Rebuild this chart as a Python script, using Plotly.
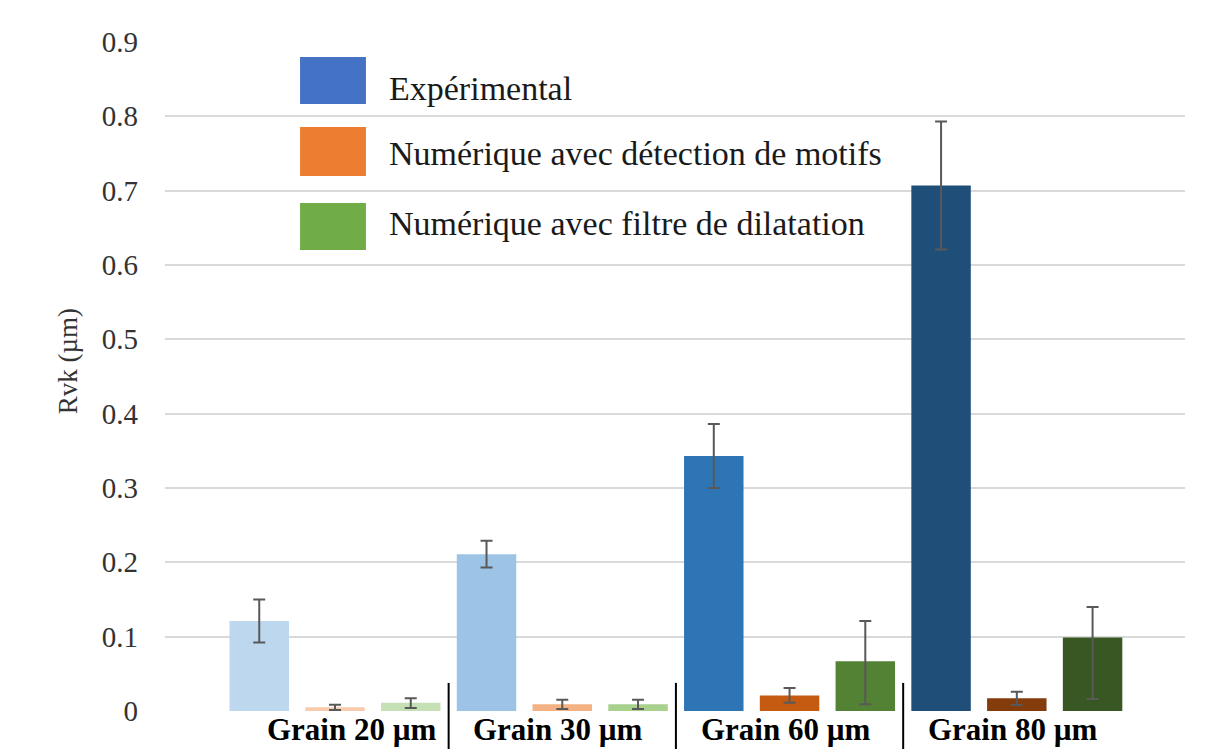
import plotly.graph_objects as go

# data
categories = ["Grain 20 µm", "Grain 30 µm", "Grain 60 µm", "Grain 80 µm"]
series_names = [
    "Expérimental",
    "Numérique avec détection de motifs",
    "Numérique avec filtre de dilatation",
]

exp_values = [0.121, 0.211, 0.343, 0.707]
exp_errors = [0.029, 0.018, 0.043, 0.086]

motif_values = [0.005, 0.009, 0.021, 0.017]
motif_errors = [0.0035, 0.0063, 0.010, 0.009]

dil_values = [0.011, 0.009, 0.067, 0.099]
dil_errors_plus = [0.0060, 0.0063, 0.054, 0.041]
dil_errors_minus = [0.0070, 0.0063, 0.058, 0.083]

exp_colors = ["#BDD7EE", "#9DC3E6", "#2E75B6", "#1F4E79"]
motif_colors = ["#F8CBAD", "#F4B183", "#C55A11", "#843C0C"]
dil_colors = ["#C5E0B4", "#A9D18E", "#548235", "#385723"]
legend_colors = ["#4472C4", "#ED7D31", "#70AD47"]

y_ticks = [0, 0.1, 0.2, 0.3, 0.4, 0.5, 0.6, 0.7, 0.8, 0.9]

FONT = "Liberation Serif"
ERR_COLOR = "#595959"

x_pos = list(range(len(categories)))

fig = go.Figure()


def err(arr, arr_minus=None):
    d = dict(type="data", array=arr, color=ERR_COLOR, thickness=2, width=6)
    if arr_minus is not None:
        d["symmetric"] = False
        d["arrayminus"] = arr_minus
    return d


fig.add_trace(go.Bar(x=x_pos, y=exp_values, name=series_names[0],
                     marker=dict(color=exp_colors, line=dict(width=0)),
                     error_y=err(exp_errors), showlegend=False))
fig.add_trace(go.Bar(x=x_pos, y=motif_values, name=series_names[1],
                     marker=dict(color=motif_colors, line=dict(width=0)),
                     error_y=err(motif_errors), showlegend=False))
fig.add_trace(go.Bar(x=x_pos, y=dil_values, name=series_names[2],
                     marker=dict(color=dil_colors, line=dict(width=0)),
                     error_y=err(dil_errors_plus, dil_errors_minus), showlegend=False))

# hand-made legend with big square swatches
swatch_y = [(0.9776, 0.9073), (0.8729, 0.7997), (0.7593, 0.6891)]
text_y = [0.93, 0.834, 0.729]
shapes = []
annotations = []
for name, col, (y1, y0), ty in zip(series_names, legend_colors, swatch_y, text_y):
    shapes.append(dict(type="rect", xref="paper", yref="paper",
                       x0=0.1324, x1=0.197, y0=y0, y1=y1,
                       fillcolor=col, line=dict(width=0), layer="above"))
    annotations.append(dict(text=name, xref="paper", yref="paper",
                            x=0.2176, y=ty, xanchor="left", yanchor="middle",
                            showarrow=False,
                            font=dict(family=FONT, size=34, color="#1a1a1a")))

# category labels under the axis, with separators between groups
for i, cat in enumerate(categories):
    annotations.append(dict(text=f"<b>{cat}</b>", xref="x", yref="paper",
                            x=i, y=-0.027, xshift=17 if i == 0 else -4,
                            yanchor="middle", showarrow=False,
                            font=dict(family=FONT, size=31, color="black")))
for i in range(len(categories) - 1):
    shapes.append(dict(type="line", xref="x", yref="paper",
                       x0=i + 0.5, x1=i + 0.5, y0=0.042, y1=-0.06,
                       line=dict(color="black", width=2)))

annotations.append(dict(text="Rvk (µm)", xref="paper", yref="paper",
                        x=-0.095, y=0.523, textangle=-90, showarrow=False,
                        xanchor="center", yanchor="middle",
                        font=dict(family=FONT, size=27, color="#333333")))

# the page body adds an 8px offset, so the figure is 8px smaller than the window
fig.update_layout(
    width=1198, height=741,
    margin=dict(l=157, r=21, t=34, b=38),
    paper_bgcolor="white", plot_bgcolor="white",
    barmode="group", bargap=0, bargroupgap=0.215,
    font=dict(family=FONT, size=26, color="#333333"),
    shapes=shapes, annotations=annotations,
    xaxis=dict(range=[-0.748, 3.74], showticklabels=False, showgrid=False,
               zeroline=False, showline=False, ticks=""),
    yaxis=dict(range=[0, 0.9], tickvals=y_ticks,
               ticktext=[f"{v:g}" for v in y_ticks],
               showgrid=True, gridcolor="#d9d9d9", gridwidth=2,
               zeroline=False, showline=False, ticks="",
               ticklabelstandoff=26,
               tickfont=dict(family=FONT, size=29, color="#333333")),
)

fig.write_html("out.html")
